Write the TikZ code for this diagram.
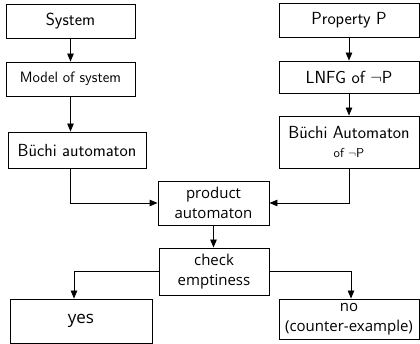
\documentclass[tikz,border=0pt]{standalone}
\usepackage{fontspec}
\newfontfamily\lowfont{Open Sans}
\usetikzlibrary{arrows.meta}
\begin{document}
\begin{tikzpicture}[x=1pt,y=-1pt,
  box/.style={draw,line width=0.9pt,rectangle,inner sep=0pt,align=center,font=\sffamily\fontsize{17.5}{20}\selectfont},
  lowbox/.style={box,font=\lowfont\fontsize{15}{20}\selectfont},
  conn/.style={line width=0.9pt},
  arr/.style={conn,-{Triangle[length=8pt,width=6.5pt]}}]
\useasboundingbox (0,0) rectangle (420,344);
\node[box,minimum width=129pt,minimum height=34pt] (sys) at (70.5,21) {System};
\node[box,minimum width=129pt,minimum height=34pt,font=\sffamily\fontsize{15}{17}\selectfont] (model) at (70.5,79) {Model of system};
\node[box,minimum width=138pt,minimum height=36pt] (buchi) at (77,150) {B\"uchi automaton};
\node[box,minimum width=140pt,minimum height=34pt] (prop) at (349,20) {Property P};
\node[box,minimum width=140pt,minimum height=32pt] (lnfg) at (349,77) {LNFG of $\neg$P};
\node[box,minimum width=140pt,minimum height=52pt] (bnp) at (349,142) {B\"uchi Automaton\\[-1pt]{\fontsize{13}{15}\selectfont of $\neg$P}};
\node[lowbox,minimum width=111pt,minimum height=44pt] (prod) at (213.5,203) {product\\automaton};
\node[lowbox,minimum width=110pt,minimum height=47pt] (check) at (214,271.5) {check\\emptiness};
\node[lowbox,minimum width=142pt,minimum height=44pt,font=\lowfont\fontsize{17}{20}\selectfont] (yes) at (81,321) {yes};
\node[lowbox,minimum width=140pt,minimum height=40pt] (no) at (349,319) {no\\(counter-example)};
\draw[arr] (sys) -- (model);
\draw[arr] (model) -- (model.south |- buchi.north);
\draw[arr] (prop) -- (lnfg);
\draw[arr] (lnfg) -- (bnp);
\draw[arr] ([xshift=-7pt]buchi.south) |- (prod.west);
\draw[arr] (bnp.south) |- (prod.east);
\draw[arr] (prod) -- (prod.south |- check.north);
\draw[arr] (check.west) -| ([xshift=-7pt]yes.north);
\draw[arr] (check.east) -| ([xshift=2pt]no.north);
\end{tikzpicture}
\end{document}
